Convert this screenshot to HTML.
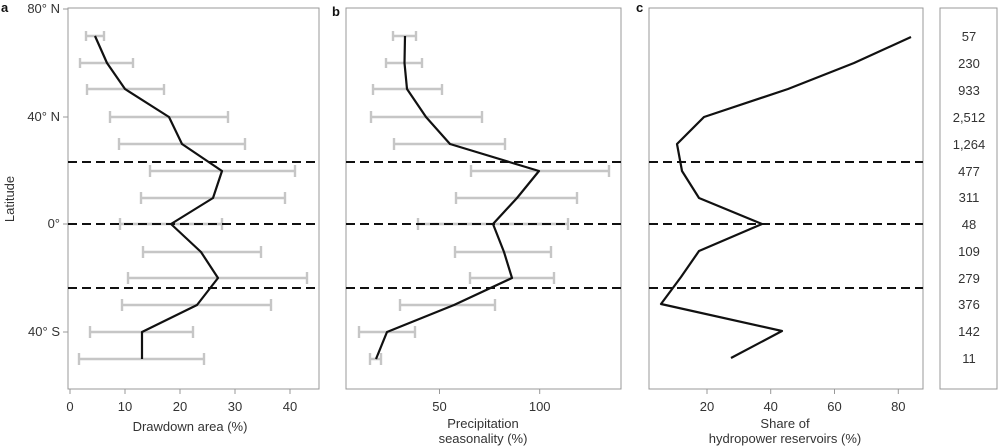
<!DOCTYPE html>
<html><head><meta charset="utf-8"><style>
body{margin:0;background:#fff}
svg{display:block}
text{font-family:"Liberation Sans",sans-serif;fill:#333;font-size:13px}
</style></head><body>
<svg width="1000" height="447" viewBox="0 0 1000 447">
<g fill="none" stroke="#999" stroke-width="1">
<rect x="68" y="8" width="251" height="381"/>
<rect x="346" y="8" width="275" height="381"/>
<rect x="649" y="8" width="274" height="381"/>
<rect x="940" y="8" width="57" height="381"/>
<path d="M63 9H68M63 117H68M63 224H68M63 332H68"/>
<path d="M70 389V394M125 389V394M180 389V394M235 389V394M290 389V394"/>
<path d="M439.5 389V394M539.7 389V394"/>
<path d="M707 389V394M770.7 389V394M834.5 389V394M898.3 389V394"/>
</g>
<g stroke="#c6c6c6" stroke-width="2.4" fill="none">
<path d="M86 36H104M86 31V41M104 31V41"/>
<path d="M80 63H133M80 58V68M133 58V68"/>
<path d="M87 89H164M87 84V95M164 84V95"/>
<path d="M110 117H228M110 111V123M228 111V123"/>
<path d="M119 144H245M119 138V150M245 138V150"/>
<path d="M150 171H295M150 165V177M295 165V177"/>
<path d="M141 198H285M141 192V204M285 192V204"/>
<path d="M120 224H222M120 218V230M222 218V230"/>
<path d="M143 252H261M143 246V258M261 246V258"/>
<path d="M128 278H307M128 272V284M307 272V284"/>
<path d="M122 305H271M122 299V311M271 299V311"/>
<path d="M90 332H193M90 326V338M193 326V338"/>
<path d="M79 359H204M79 353V365M204 353V365"/>
<path d="M393 36H416M393 31V41M416 31V41"/>
<path d="M386 63H422M386 58V68M422 58V68"/>
<path d="M373 89H442M373 84V95M442 84V95"/>
<path d="M371 117H482M371 111V123M482 111V123"/>
<path d="M394 144H505M394 138V150M505 138V150"/>
<path d="M471 171H609M471 165V177M609 165V177"/>
<path d="M456 198H577M456 192V204M577 192V204"/>
<path d="M418 224H568M418 218V230M568 218V230"/>
<path d="M455 252H551M455 246V258M551 246V258"/>
<path d="M470 278H554M470 272V284M554 272V284"/>
<path d="M400 305H495M400 299V311M495 299V311"/>
<path d="M359 332H415M359 326V338M415 326V338"/>
<path d="M370 359H381M370 353V365M381 353V365"/>
</g>
<g stroke="#111" stroke-width="2" stroke-dasharray="9,5" fill="none">
<path d="M68 162H319M68 224H319M68 288H319"/>
<path d="M346 162H621M346 224H621M346 288H621"/>
<path d="M649 162H923M649 224H923M649 288H923"/>
</g>
<g stroke="#111" stroke-width="2.2" fill="none" stroke-linejoin="round">
<polyline points="95,36 107,63 125,89 169,117 182,144 222,171 213,198 171,224 201,252 218,278 197,305 142,332 142,359"/>
<polyline points="405,36 404.5,63 407,89 426,117 450,144 539,171 517,198 493,224 504,252 512,278 454,305 387,332 376,359"/>
<polyline points="911,37 854,63 788,89 704,117 677,144 682,171 699,198 762,224 699,251 681,277 661,304 782,331 731,358"/>
</g>
<g text-anchor="end">
<text x="60" y="13">80° N</text><text x="60" y="121">40° N</text><text x="60" y="228">0°</text><text x="60" y="336">40° S</text>
</g>
<g text-anchor="middle">
<text x="70" y="411">0</text><text x="125" y="411">10</text><text x="180" y="411">20</text><text x="235" y="411">30</text><text x="290" y="411">40</text>
<text x="190" y="431">Drawdown area (%)</text>
<text x="439.5" y="411">50</text><text x="539.7" y="411">100</text>
<text x="483" y="428">Precipitation</text><text x="483" y="443">seasonality (%)</text>
<text x="707" y="411">20</text><text x="770.7" y="411">40</text><text x="834.5" y="411">60</text><text x="898.3" y="411">80</text>
<text x="785" y="428">Share of</text><text x="785" y="443">hydropower reservoirs (%)</text>
<text x="969" y="41">57</text><text x="969" y="68">230</text><text x="969" y="95">933</text><text x="969" y="122">2,512</text><text x="969" y="149">1,264</text><text x="969" y="176">477</text><text x="969" y="202">311</text><text x="969" y="229">48</text><text x="969" y="256">109</text><text x="969" y="283">279</text><text x="969" y="309">376</text><text x="969" y="336">142</text><text x="969" y="363">11</text>
</g>
<text transform="translate(14,199) rotate(-90)" text-anchor="middle">Latitude</text>
<text x="1" y="12" style="font-weight:bold;font-size:13px;fill:#111">a</text>
<text x="332" y="16" style="font-weight:bold;font-size:13px;fill:#111">b</text>
<text x="636" y="12" style="font-weight:bold;font-size:13px;fill:#111">c</text>
</svg>
</body></html>
